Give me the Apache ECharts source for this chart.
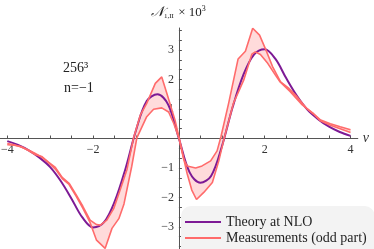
<!DOCTYPE html>
<html>
<head>
<meta charset="utf-8">
<script src="https://cdn.jsdelivr.net/npm/echarts@6/dist/echarts.min.js"></script>
<style>html,body{margin:0;padding:0;background:#fff}#c{width:374px;height:249px}</style>
</head>
<body>
<div id="c"></div>
<script>
// Theory at NLO
var nuTheory = [-4,-3.75,-3.5,-3.25,-3,-2.75,-2.5,-2.25,-2,-1.75,-1.5,-1.25,-1,-0.75,-0.5,-0.25,0,0.25,0.5,0.75,1,1.25,1.5,1.75,2,2.25,2.5,2.75,3,3.25,3.5,3.75,4];
var valTheory = [-0.09,-0.22,-0.40,-0.65,-0.97,-1.45,-2.05,-2.68,-3.02,-2.85,-2.15,-1.05,0.28,1.27,1.50,1.15,0,-1.15,-1.50,-1.27,-0.28,1.05,2.15,2.85,3.03,2.70,2.05,1.45,0.97,0.65,0.40,0.22,0.09];
// Measurements (odd part): two edges of the band
var nuMeasA = [-4,-3.84,-3.68,-3.52,-3.36,-3.2,-3.04,-2.88,-2.72,-2.56,-2.4,-2.24,-2.08,-1.92,-1.72,-1.56,-1.4,-1.28,-1.1,-0.98,-0.75,-0.59,-0.4,-0.24,-0.12,0,0.11,0.19,0.39,0.54,0.74,0.89,0.98,1.16,1.38,1.55,1.72,1.88,2.03,2.18,2.37,2.55,2.75,2.98,3.14,3.29,3.53,3.76,4];
var valMeasA = [-0.17,-0.21,-0.29,-0.38,-0.50,-0.63,-0.82,-1.04,-1.36,-1.56,-1.95,-2.36,-2.82,-3.45,-3.73,-3.05,-2.72,-2.22,-0.95,0.02,0.74,0.99,1.04,0.90,0.51,0.02,-0.70,-0.93,-1.00,-0.93,-0.76,-0.42,0.06,1.20,2.70,2.96,3.74,3.51,3.00,2.45,1.92,1.72,1.42,1.02,0.84,0.64,0.50,0.40,0.30];
var nuMeasB = [-4,-3.84,-3.68,-3.52,-3.36,-3.2,-3.04,-2.88,-2.72,-2.56,-2.4,-2.24,-2.07,-1.92,-1.83,-1.68,-1.52,-1.37,-1.21,-1.06,-0.9,-0.75,-0.55,-0.4,-0.28,-0.09,0,0.19,0.3,0.41,0.58,0.78,0.93,1.05,1.27,1.51,1.7,1.78,1.9,2.07,2.25,2.36,2.59,2.87,3.14,3.3,3.53,3.76,4];
var valMeasB = [-0.21,-0.23,-0.27,-0.40,-0.54,-0.61,-0.80,-0.98,-1.32,-1.52,-1.90,-2.30,-2.77,-2.92,-2.94,-2.77,-2.38,-1.75,-1.05,0.00,0.79,1.19,1.87,2.09,1.53,0.62,0.05,-1.18,-1.75,-2.07,-1.83,-1.49,-0.76,-0.02,1.19,1.98,2.86,2.94,2.85,2.55,2.15,1.92,1.60,1.15,0.83,0.60,0.45,0.33,0.20];
// Ticks
var xTickLabels = [-4,-2,2,4];
var xTickStep = 0.5;
var yTickLabels = [-3,-2,-1,1,2,3];
var yTickStep = 1 / 3;

function pairs(xs, ys) { return xs.map(function (x, i) { return [x, ys[i]]; }); }
var ptsA = pairs(nuMeasA, valMeasA);
var ptsB = pairs(nuMeasB, valMeasB);
var bandPts = ptsA.concat(ptsB.slice().reverse());

var serif = '"Liberation Serif", "DejaVu Serif", serif';
function labelFmt(list) {
  return function (v) {
    var r = Math.round(v);
    if (Math.abs(v - r) > 1e-6 || list.indexOf(r) < 0) return '';
    return String(r).replace('-', '\u2212');
  };
}
// plot geometry (main grid)
var G = { left: 0, top: 28, width: 357.8, height: 221 };
var X0 = -4.17, X1 = 4.17, Y0 = -3.75, Y1 = 3.75;
var sx = G.width / (X1 - X0), sy = G.height / (Y1 - Y0);
var tx0 = -4, tx1 = 4, ty0 = -11 / 3, ty1 = 11 / 3;
var G2 = {
  left: G.left + (tx0 - X0) * sx, width: (tx1 - tx0) * sx,
  top: G.top + (Y1 - ty1) * sy, height: (ty1 - ty0) * sy
};
var zeroX = G.left + (0 - X0) * sx;
var zeroY = G.top + Y1 * sy;

var chart = echarts.init(document.getElementById('c'), null, { renderer: 'canvas' });
chart.setOption({
  animation: false,
  backgroundColor: '#fff',
  grid: [
    { left: G.left, top: G.top, width: G.width, height: G.height, containLabel: false, outerBoundsMode: 'none' },
    { left: G2.left, top: G2.top, width: G2.width, height: G2.height, containLabel: false, outerBoundsMode: 'none' }
  ],
  xAxis: [{
    gridIndex: 0, type: 'value', min: X0, max: X1,
    axisLine: { onZero: true, lineStyle: { color: '#555', width: 1 } },
    axisTick: { show: false }, axisLabel: { show: false }, splitLine: { show: false },
    name: '\u03bd', nameLocation: 'end', nameGap: 5,
    nameTextStyle: { fontSize: 14, fontStyle: 'italic', fontFamily: serif, color: '#333' }
  }, {
    gridIndex: 1, type: 'value', min: tx0, max: tx1, interval: xTickStep,
    position: 'bottom', offset: -(G2.top + G2.height - zeroY),
    axisLine: { show: false, onZero: false },
    axisTick: { show: true, inside: true, length: 3, lineStyle: { color: '#555' } },
    axisLabel: { formatter: labelFmt(xTickLabels), margin: 5, fontSize: 12, fontFamily: serif, color: '#333' },
    splitLine: { show: false }
  }],
  yAxis: [{
    gridIndex: 0, type: 'value', min: Y0, max: Y1,
    axisLine: { onZero: true, lineStyle: { color: '#555', width: 1 } },
    axisTick: { show: false }, axisLabel: { show: false }, splitLine: { show: false }
  }, {
    gridIndex: 1, type: 'value', min: ty0, max: ty1, interval: yTickStep,
    position: 'left', offset: -(zeroX - G2.left),
    axisLine: { show: false, onZero: false },
    axisTick: { show: true, inside: true, length: 3, lineStyle: { color: '#555' } },
    axisLabel: { formatter: labelFmt(yTickLabels), margin: 5, fontSize: 12, fontFamily: serif, color: '#333' },
    splitLine: { show: false }
  }],
  legend: {
    orient: 'vertical', left: 181, top: 206, height: 60,
    padding: [9, 8, 14, 4],
    backgroundColor: '#f3f3f3', borderRadius: 10,
    icon: 'rect', itemWidth: 36, itemHeight: 2, itemGap: 2,
    textStyle: { fontFamily: serif, fontSize: 14, color: '#222' },
    data: ['Theory at NLO', 'Measurements (odd part)']
  },
  graphic: [
    { type: 'text', left: 63, top: 61, style: { text: '256\u00b3', font: '14px ' + serif, fill: '#222' } },
    { type: 'text', left: 64, top: 81, style: { text: 'n=\u22121', font: '14px ' + serif, fill: '#222' } },
    { type: 'text', left: 151, top: 5, style: {
        text: '{n|\ud835\udca9}{s|1,II} \u00d7 10{p|3}',
        font: '13px ' + serif, fill: '#222',
        rich: {
          n: { fontSize: 14, fontFamily: serif, fontStyle: 'italic', fill: '#222' },
          s: { fontSize: 7, fontFamily: serif, fill: '#222', padding: [7, 1, 0, 0] },
          p: { fontSize: 8, fontFamily: serif, fill: '#222', padding: [0, 0, 7, 0] }
        } } }
  ],
  series: [
    {
      type: 'custom', name: 'band', silent: true, z: 1,
      xAxisIndex: 0, yAxisIndex: 0,
      coordinateSystem: 'cartesian2d', data: [[0, 0]],
      renderItem: function (params, api) {
        var pts = bandPts.map(function (p) { return api.coord(p); });
        return { type: 'polygon', shape: { points: pts }, style: { fill: 'rgba(255,110,110,0.25)', stroke: null } };
      }
    },
    {
      type: 'line', name: 'Theory at NLO', data: pairs(nuTheory, valTheory), smooth: 0.35,
      xAxisIndex: 0, yAxisIndex: 0,
      showSymbol: false, z: 3, color: '#7d1a95',
      lineStyle: { color: '#7d1a95', width: 2 }
    },
    {
      type: 'line', name: 'Measurements (odd part)', data: ptsA, showSymbol: false, z: 4,
      xAxisIndex: 0, yAxisIndex: 0,
      color: '#ff6b6b', lineStyle: { color: '#ff6b6b', width: 1.6 }
    },
    {
      type: 'line', name: 'Measurements (odd part)', data: ptsB, showSymbol: false, z: 4,
      xAxisIndex: 0, yAxisIndex: 0,
      color: '#ff6b6b', lineStyle: { color: '#ff6b6b', width: 1.6 }
    }
  ]
});
</script>
</body>
</html>
